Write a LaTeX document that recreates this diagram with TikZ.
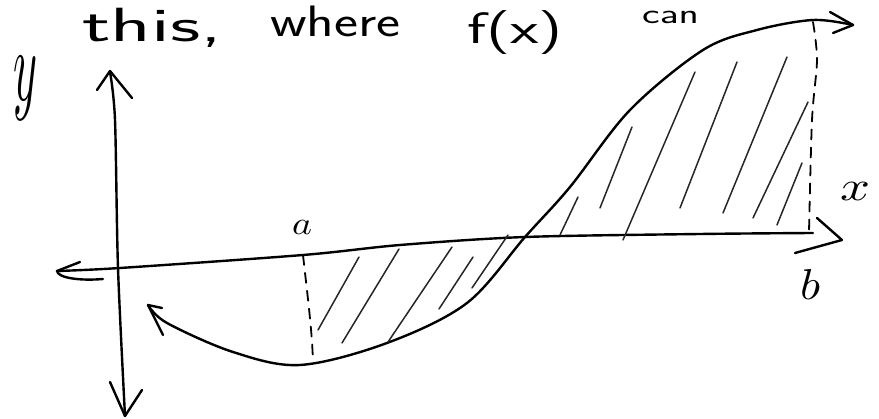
\documentclass[tikz,border=0pt]{standalone}
\usepackage{graphicx}
\tikzset{
  ink/.style={line width=2.4pt, line cap=round, line join=round, black},
  hatch/.style={line width=1.5pt, line cap=round, black!85},
  guide/.style={line width=1.8pt, line cap=round, dash pattern=on 10pt off 8pt, black},
  word/.style={inner sep=0pt, anchor=base west, font=\sffamily\fontsize{44}{44}\selectfont},
}
\begin{document}
\begin{tikzpicture}[x=1pt, y=-1pt]
\useasboundingbox (0,0) rectangle (879,419);
% top handwritten text
\node[word, font=\sffamily\fontsize{48}{48}\selectfont] (w1) at (82,42) {\scalebox{1.75}[1]{this,}};
\node[word] (w2) at (270,37) {\scalebox{1.3}[1]{where}};
\node[word] (w3) at (467,44) {\scalebox{1.5}[1]{f(x)}};
\node[word, font=\sffamily\fontsize{28}{28}\selectfont] (w4) at (642,24) {\scalebox{1.5}[1]{can}};
% axis labels
\node (ly) at (26,88) {\resizebox{24pt}{44pt}{$y$}};
\node (la) at (302,228) {\resizebox{20pt}{14pt}{$a$}};
\node (lx) at (855,192) {\resizebox{30pt}{18pt}{$x$}};
\node (lb) at (810,285) {\resizebox{20pt}{30pt}{$b$}};
% y axis
\draw[ink] plot[smooth] coordinates {(110,72) (115,120) (118,268) (125,416)};
\draw[ink] (97,90) -- (110,71) -- (132,98);
\draw[ink] (110,382) -- (125,416) -- (142,390);
% x axis
\draw[ink] plot[smooth] coordinates {(57,271) (120,268) (303,255) (400,245) (525,237) (700,234) (813,233)};
\draw[ink] (80,262) -- (57,271) .. controls (58,278) and (80,281) .. (103,279);
\draw[ink] (817,218) -- (842,240) -- (795,253);
% curve f(x)
\draw[ink] plot[smooth, tension=0.55] coordinates {(148,305) (167,323) (233,352) (300,365) (387,343) (467,303) (525,237) (570,187) (630,110) (703,50) (757,30) (813,20) (853,25)};
\draw[ink] (162,308) -- (148,305) -- (163,335);
\draw[ink] (830,12) -- (853,25) -- (833,33);
% dashed bounds
\draw[guide] (303,255) .. controls (308,300) and (312,330) .. (313,362);
\draw[guide] plot[smooth] coordinates {(813,22) (817,60) (812,120) (809,232)};
% hatching below axis
\draw[hatch] (318,330) -- (359,257);
\draw[hatch] (342,343) -- (399,249);
\draw[hatch] (388,342) -- (452,247);
\draw[hatch] (439,309) -- (473,257);
\draw[hatch] (472,288) -- (508,235);
% hatching above axis
\draw[hatch] (560,235) -- (578,197);
\draw[hatch] (600,208) -- (632,127);
\draw[hatch] (623,240) -- (695,72);
\draw[hatch] (680,208) -- (737,62);
\draw[hatch] (723,213) -- (787,57);
\draw[hatch] (753,218) -- (808,102);
\draw[hatch] (777,225) -- (802,163);
\end{tikzpicture}
\end{document}
